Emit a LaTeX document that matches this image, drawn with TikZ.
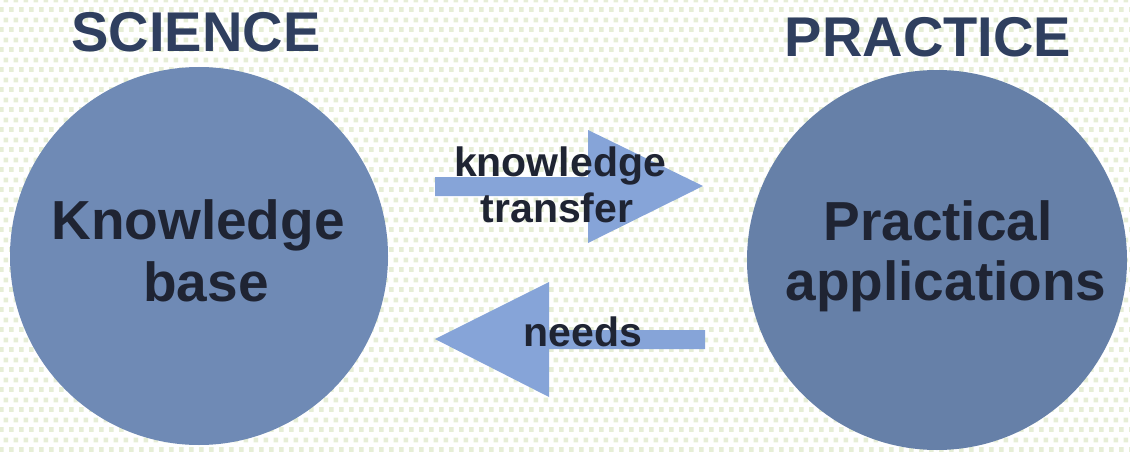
\documentclass[tikz,border=0pt]{standalone}
\usepackage{fontspec}
\setmainfont{Liberation Sans}
\usetikzlibrary{patterns}
\pgfdeclarepatternformonly{bgsquares}{\pgfpointorigin}{\pgfpoint{10pt}{20pt}}{\pgfpoint{10pt}{20pt}}{%
  \pgfpathrectangle{\pgfpoint{0pt}{0pt}}{\pgfpoint{5pt}{5pt}}%
  \pgfpathrectangle{\pgfpoint{5pt}{10pt}}{\pgfpoint{5pt}{5pt}}%
  \pgfusepath{fill}}
\definecolor{dotgreen}{HTML}{E6EED6}
\definecolor{leftcirc}{HTML}{6F8AB5}
\definecolor{rightcirc}{HTML}{6680A8}
\definecolor{arrowblue}{HTML}{86A4D8}
\definecolor{darktext}{HTML}{1F2433}
\definecolor{titletext}{HTML}{2F3F5F}
\begin{document}
\begin{tikzpicture}[x=1pt,y=-1pt,
  bigcircle/.style={circle,draw=none,inner sep=0pt,minimum size=#1},
  title/.style={anchor=base,text=titletext,font=\fontsize{56}{60}\selectfont\bfseries,inner sep=0pt},
  circtext/.style={anchor=base,text=darktext,font=\fontsize{55}{60}\selectfont\bfseries,inner sep=0pt},
  arrtext/.style={anchor=base,text=darktext,font=\fontsize{41}{46}\selectfont\bfseries,inner sep=0pt},
  blockarrow/.style={fill=arrowblue,draw=none}]
\useasboundingbox (0,0) rectangle (1130,452);
\fill[white] (0,0) rectangle (1130,452);
\fill[pattern=bgsquares,pattern color=dotgreen] (0,0) rectangle (1130,452);
% circles
\node[bigcircle=378pt,fill=leftcirc] (kb) at (199,256) {};
\node[bigcircle=380pt,fill=rightcirc] (pa) at (937,260) {};
% block arrows
\fill[blockarrow] (435,177) -- (588,177) -- (588,130) -- (703,186) -- (588,243) -- (588,196) -- (435,196) -- cycle;
\fill[blockarrow] (705,330) -- (549,330) -- (549,282) -- (435,339) -- (549,397) -- (549,349) -- (705,349) -- cycle;
% titles
\node[title] (sci) at (196,52) {SCIENCE};
\node[title] (prac) at (928,57) {PRACTICE};
% circle texts
\node[circtext] (kb1) at (198,239) {Knowledge};
\node[circtext] (kb2) at (206,301) {base};
\node[circtext] (pa1) at (938,240) {Practical};
\node[circtext] (pa2) at (946,300) {applications};
% arrow labels
\node[arrtext] (kt1) at (560,176) {knowledge};
\node[arrtext] (kt2) at (557,222) {transfer};
\node[arrtext] (nd) at (583,346) {needs};
\end{tikzpicture}
\end{document}
